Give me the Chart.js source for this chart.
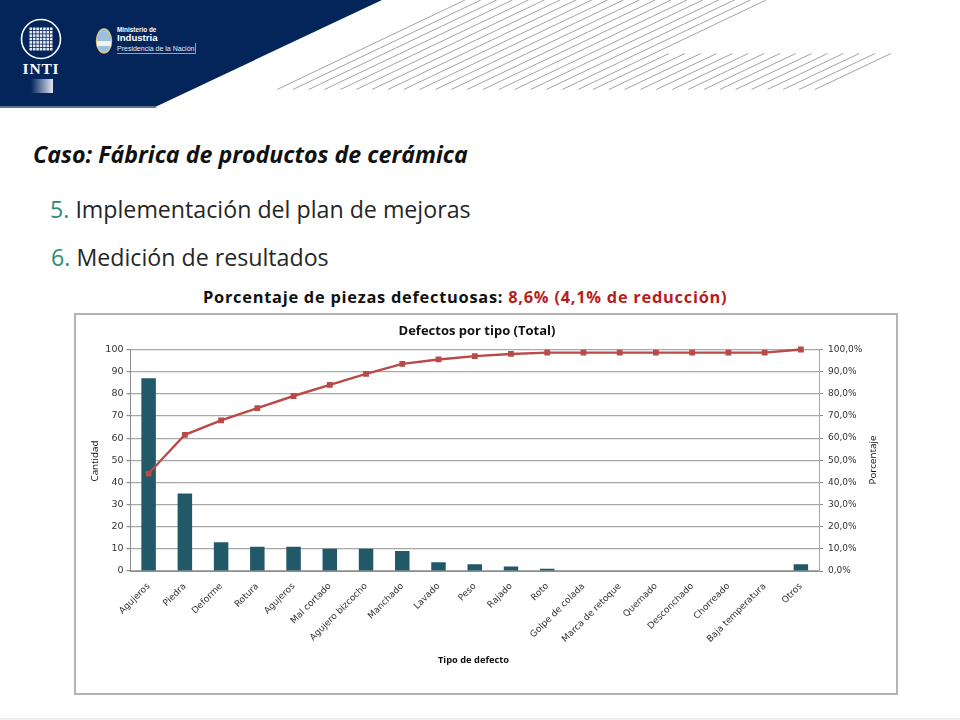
<!DOCTYPE html>
<html lang="es"><head><meta charset="utf-8">
<script src="https://cdn.jsdelivr.net/npm/chart.js@4"></script>
<style>
html,body{margin:0;padding:0;background:#fff}
#slide{position:relative;width:960px;height:720px;overflow:hidden;background:#fff;font-family:"Open Sans",sans-serif}
#slide svg{position:absolute;left:0;top:0}
.t{position:absolute;white-space:nowrap;color:#262626;line-height:1}
#frame{position:absolute;left:74px;top:313px;width:820px;height:378px;border:2px solid #b4b4b4;background:#fff}
#frame canvas{display:block}
</style></head><body>
<div id="slide">
<svg id="deco" width="960" height="720" xmlns="http://www.w3.org/2000/svg">
  <polygon points="0,0 382,0 153,108 0,108" fill="#04255a"/>
  <rect x="0" y="106" width="156" height="2" fill="#5a7396"/>
  <circle cx="41" cy="39" r="19.5" fill="none" stroke="#fff" stroke-width="1.6"/>
  <g id="grid"></g>
  <text x="41" y="74" text-anchor="middle" font-family="Liberation Serif" font-weight="700" font-size="15.5" fill="#fff" letter-spacing=".8">INTI</text>
  <defs><linearGradient id="fade" x1="0" x2="1"><stop offset="0" stop-color="#04255a"/><stop offset="1" stop-color="#dfe7f4"/></linearGradient></defs>
  <rect x="31" y="79" width="22" height="14" fill="url(#fade)"/>
  <ellipse cx="104" cy="41" rx="7.5" ry="12" fill="#9cc0df" stroke="#d9c98a" stroke-width="1.4"/>
  <rect x="97" y="41" width="14" height="5" fill="#f2f2f2"/>
  <text x="117" y="32" font-family="Liberation Sans" font-weight="700" font-size="6.4" fill="#fff">Ministerio de</text>
  <text x="117" y="41" font-family="Liberation Sans" font-weight="700" font-size="9.6" fill="#fff">Industria</text>
  <text x="117" y="50.5" font-family="Liberation Sans" font-size="7" fill="#e6ebf3">Presidencia de la Nación</text>
  <path d="M117 53.5H195.5V43" fill="none" stroke="#cfd8e6" stroke-width=".7"/>
  <g id="hatch" stroke="#a3a3a3" stroke-width="1" fill="none"></g>
</svg>
<div class="t" style="left:33px;top:143px;font-size:23.2px;font-weight:700;font-style:italic;color:#111">Caso: Fábrica de productos de cerámica</div>
<div class="t" style="left:50px;top:198px;font-size:23.2px"><span style="color:#2e8b74">5.</span> Implementación del plan de mejoras</div>
<div class="t" style="left:51px;top:246px;font-size:23.2px"><span style="color:#2e8b74">6.</span> Medición de resultados</div>
<div class="t" style="left:203px;top:289px;font-size:16.4px;font-weight:700;color:#111;letter-spacing:.74px">Porcentaje de piezas defectuosas: <span style="color:#b81d1d">8,6% (4,1% de reducción)</span></div>
<div id="frame"><canvas id="c" width="820" height="378"></canvas></div>
<div style="position:absolute;left:0;top:718px;width:960px;height:2px;background:#eeeeee"></div>
</div>
<script>
const categories=["Agujeros","Piedra","Deforme","Rotura","Agujeros","Mal cortado","Agujero bizcocho","Manchado","Lavado","Peso","Rajado","Roto","Golpe de colada","Marca de retoque","Quemado","Desconchado","Chorreado","Baja temperatura","Otros"];
const cantidad=[87,35,13,11,11,10,10,9,4,3,2,1,0,0,0,0,0,0,3];
const acumulado=[44,61.5,68,73.5,79,84,89,93.5,95.5,97,98,98.6,98.6,98.6,98.6,98.6,98.6,98.6,100];
const leftTicks=[0,10,20,30,40,50,60,70,80,90,100];
const rightTicks=["0,0%","10,0%","20,0%","30,0%","40,0%","50,0%","60,0%","70,0%","80,0%","90,0%","100,0%"];

// decorative header
const NS="http://www.w3.org/2000/svg";
const hatch=document.getElementById("hatch");
function seg(x1,y1,x2,y2,p){const l=document.createElementNS(NS,"line");l.setAttribute("x1",x1);l.setAttribute("y1",y1);l.setAttribute("x2",x2);l.setAttribute("y2",y2);p.appendChild(l);}
for(let i=0;i<20;i++){const x=277+i*15.85;seg(x,89.5,x+188,0,hatch);}
for(let i=0;i<15;i++){const x=593+i*15.85;seg(x,89.5,x+76,53.5,hatch);}
const grid=document.getElementById("grid");
for(let r=0;r<7;r++)for(let c=0;c<7;c++){const s=document.createElementNS(NS,"rect");s.setAttribute("x",29.5+c*3.4);s.setAttribute("y",27.5+r*3.4);s.setAttribute("width",2.6);s.setAttribute("height",2.6);s.setAttribute("fill","#e8edf5");grid.appendChild(s);}

const FONT="'DejaVu Sans'";
const CW=820,CH=378;
const PL=54.5,PR=819-76,PT=349.5-315,PB=571-315; // plot box in canvas coordinates
new Chart(document.getElementById("c"),{
  data:{labels:categories,datasets:[
    {type:"line",label:"Porcentaje",data:acumulado,yAxisID:"y2",borderColor:"#b94a48",backgroundColor:"#b94a48",borderWidth:2.4,pointRadius:2.4,pointStyle:"rect",tension:0,order:1,clip:false},
    {type:"bar",label:"Cantidad",data:cantidad,yAxisID:"y",backgroundColor:"#215968",categoryPercentage:.4,barPercentage:1,order:2}
  ]},
  options:{
    responsive:false,animation:false,
    layout:{padding:{left:0,right:0,top:PT,bottom:0}},
    plugins:{legend:{display:false},tooltip:{enabled:false},title:{display:false}},
    scales:{
      x:{position:"bottom",
        grid:{display:false,drawTicks:true},
        border:{color:"#8c8c8c"},
        ticks:{color:"#333",font:{family:FONT,size:9},minRotation:45,maxRotation:45,autoSkip:false,padding:2},
        title:{display:false},
        afterFit(s){s.height=CH-PB;}
      },
      y:{position:"left",min:0,max:100,
        grid:{color:"#a8a8a8",lineWidth:1.2,tickColor:"#8c8c8c",tickLength:4},
        border:{color:"#8c8c8c"},
        ticks:{stepSize:10,color:"#333",font:{family:FONT,size:9.5},padding:3,callback:(v,i)=>leftTicks[i]},
        afterFit(s){s.width=PL;}
      },
      y2:{position:"right",min:0,max:100,
        grid:{drawOnChartArea:false,tickColor:"#8c8c8c",tickLength:4},
        border:{color:"#a8a8a8"},
        ticks:{stepSize:10,color:"#333",font:{family:FONT,size:9},padding:5,callback:(v,i)=>rightTicks[i]},
        afterFit(s){s.width=CW-PR;}
      }
    }
  },
  plugins:[{id:"axisTitles",
    afterDraw(ch){const g=ch.ctx;g.save();g.fillStyle="#111";g.textAlign="center";g.textBaseline="middle";
      g.font="700 13px 'Open Sans'";g.fillText("Defectos por tipo (Total)",477-76,331-315);
      g.font="700 9.3px 'Open Sans'";g.fillText("Tipo de defecto",473.5-76,660-315);
      g.font="9.8px 'Open Sans'";
      g.save();g.translate(95-76,461-315);g.rotate(-Math.PI/2);g.fillText("Cantidad",0,0);g.restore();
      g.save();g.translate(873-76,460-315);g.rotate(-Math.PI/2);g.fillText("Porcentaje",0,0);g.restore();
      g.restore();}
  }]
});
</script>
</body></html>
